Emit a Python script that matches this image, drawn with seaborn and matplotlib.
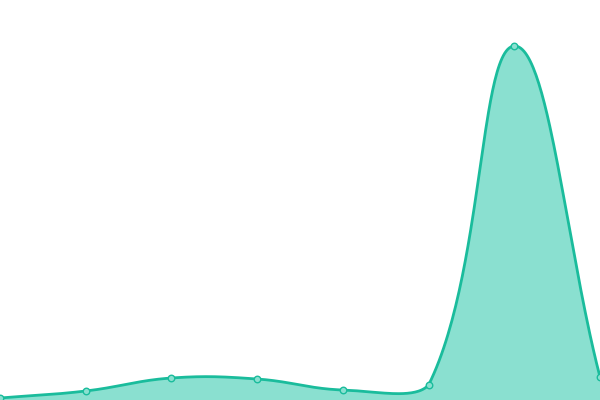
import numpy as np
import pandas as pd
import matplotlib
matplotlib.use("Agg")
import matplotlib.pyplot as plt
import seaborn as sns

# values (pixel height from the bottom)
labels = ["1", "2", "3", "4", "5", "6", "7", "8"]
values = [2, 9, 22, 21, 10, 15, 354, 23]

line_color = "#1abc9c"
fill_color = "#8ae0d0"

W, H = 600, 400
n = len(values)
xs = np.arange(n, dtype=float)
ys = np.array(values, dtype=float)
sx = W / (n - 1)  # pixels per x unit


def spline_controls(xs, ys, t=0.4):
    # Chart.js-style control points, distances in pixel space, capped to the area
    px, py = xs * sx, ys
    c_prev, c_next = [], []
    cap = lambda p: (min(max(p[0], 0), W), min(max(p[1], 0), H))
    for i in range(len(px)):
        p0 = (px[max(i - 1, 0)], py[max(i - 1, 0)])
        p1 = (px[i], py[i])
        p2 = (px[min(i + 1, len(px) - 1)], py[min(i + 1, len(px) - 1)])
        d01 = np.hypot(p1[0] - p0[0], p1[1] - p0[1])
        d12 = np.hypot(p2[0] - p1[0], p2[1] - p1[1])
        tot = d01 + d12 if d01 + d12 else 1
        fa, fb = t * d01 / tot, t * d12 / tot
        c_prev.append(cap((p1[0] - fa * (p2[0] - p0[0]), p1[1] - fa * (p2[1] - p0[1]))))
        c_next.append(cap((p1[0] + fb * (p2[0] - p0[0]), p1[1] + fb * (p2[1] - p0[1]))))
    return px, py, c_prev, c_next


px, py, cp, cn = spline_controls(xs, ys)
cx, cy = [], []
tt = np.linspace(0, 1, 60)
for i in range(n - 1):
    P0 = np.array([px[i], py[i]])
    P1 = np.array(cn[i])
    P2 = np.array(cp[i + 1])
    P3 = np.array([px[i + 1], py[i + 1]])
    seg = ((1 - tt) ** 3)[:, None] * P0 + (3 * (1 - tt) ** 2 * tt)[:, None] * P1 \
        + (3 * (1 - tt) * tt ** 2)[:, None] * P2 + (tt ** 3)[:, None] * P3
    cx.extend(seg[:, 0] / sx)
    cy.extend(seg[:, 1])
curve = pd.DataFrame({"x": cx, "y": cy})
pts = pd.DataFrame({"x": xs, "y": ys, "label": labels})

fig = plt.figure(figsize=(6, 4), dpi=100)
ax = fig.add_axes([0, 0, 1, 1])
ax.fill_between(curve["x"], curve["y"], 0, color=fill_color, lw=0)
sns.lineplot(data=curve, x="x", y="y", ax=ax, color=line_color, lw=2, sort=False)
sns.scatterplot(data=pts, x="x", y="y", ax=ax, s=22, color=fill_color,
                edgecolor=line_color, linewidth=1, zorder=5)
ax.set_xlim(0, n - 1)
ax.set_ylim(0, H)
ax.axis("off")
fig.savefig("out.png", dpi=100)
